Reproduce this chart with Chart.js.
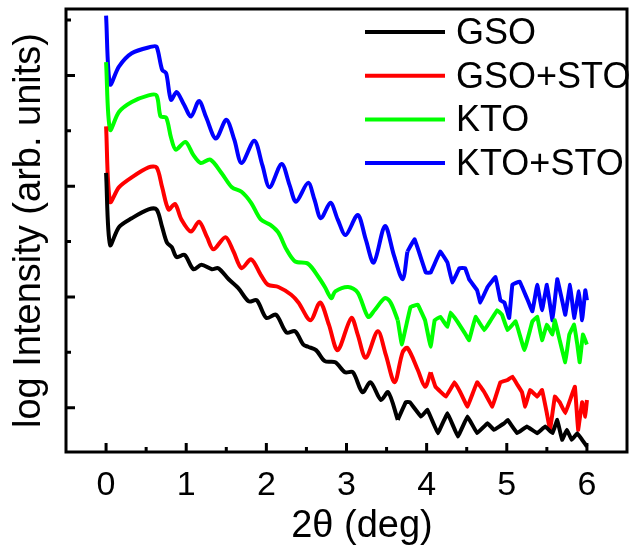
<!DOCTYPE html>
<html>
<head>
<meta charset="utf-8">
<script src="https://cdn.jsdelivr.net/npm/chart.js@4/dist/chart.umd.min.js"></script>
<style>
  html, body { margin: 0; padding: 0; background: #fff; }
</style>
</head>
<body>
<canvas id="canvasChart" width="630" height="546"></canvas>
<script>
// ---- data ----
const seriesNames = ['GSO', 'GSO+STO', 'KTO', 'KTO+STO'];

const gsoX = [0.00, 0.05, 0.16, 0.32, 0.53, 0.63, 0.70, 0.76, 0.82, 0.88, 0.98, 1.09, 1.19, 1.32, 1.40, 1.53, 1.65, 1.78, 1.88, 2.00, 2.12, 2.25, 2.36, 2.46, 2.52, 2.62, 2.73, 2.86, 2.98, 3.08, 3.20, 3.30, 3.43, 3.52, 3.64, 3.74, 3.79, 3.93, 4.01, 4.14, 4.26, 4.39, 4.51, 4.63, 4.76, 4.84, 4.97, 5.01, 5.13, 5.25, 5.38, 5.48, 5.57, 5.63, 5.69, 5.75, 5.81, 5.88, 5.94, 6.00];
const gsoY = [2.12, 1.47, 1.63, 1.71, 1.79, 1.79, 1.63, 1.49, 1.45, 1.36, 1.38, 1.25, 1.29, 1.25, 1.26, 1.16, 1.08, 0.96, 0.97, 0.81, 0.84, 0.68, 0.69, 0.57, 0.55, 0.52, 0.42, 0.41, 0.32, 0.32, 0.14, 0.23, 0.07, 0.14, -0.11, 0.05, 0.05, -0.08, -0.02, -0.23, -0.05, -0.26, -0.08, -0.23, -0.14, -0.20, -0.14, -0.11, -0.23, -0.17, -0.23, -0.17, -0.23, -0.11, -0.29, -0.20, -0.29, -0.23, -0.29, -0.35];

const gsoStoX = [0.00, 0.05, 0.16, 0.32, 0.53, 0.63, 0.70, 0.78, 0.86, 0.94, 1.06, 1.16, 1.26, 1.34, 1.49, 1.59, 1.69, 1.81, 1.93, 2.02, 2.15, 2.31, 2.40, 2.55, 2.67, 2.78, 2.89, 3.06, 3.14, 3.24, 3.39, 3.49, 3.60, 3.70, 3.76, 3.89, 3.98, 4.05, 4.11, 4.24, 4.35, 4.42, 4.51, 4.63, 4.72, 4.82, 4.92, 5.01, 5.07, 5.13, 5.19, 5.23, 5.29, 5.38, 5.44, 5.50, 5.54, 5.60, 5.66, 5.73, 5.79, 5.85, 5.89, 5.94, 5.98, 6.00];
const gsoStoY = [2.54, 1.86, 1.99, 2.08, 2.17, 2.17, 1.99, 1.79, 1.84, 1.70, 1.59, 1.68, 1.54, 1.43, 1.54, 1.41, 1.26, 1.34, 1.20, 1.11, 1.09, 1.02, 0.95, 0.79, 0.95, 0.75, 0.52, 0.81, 0.66, 0.45, 0.69, 0.48, 0.23, 0.50, 0.54, 0.34, 0.19, 0.32, 0.19, 0.10, 0.23, 0.14, 0.01, 0.23, 0.14, 0.01, 0.23, 0.25, 0.28, 0.21, 0.14, 0.01, 0.16, 0.10, 0.16, -0.05, -0.20, 0.10, 0.05, -0.05, 0.07, 0.19, -0.20, 0.05, -0.08, 0.07];

const ktoX = [0.00, 0.05, 0.16, 0.32, 0.53, 0.63, 0.68, 0.75, 0.81, 0.87, 0.99, 1.09, 1.18, 1.30, 1.44, 1.57, 1.69, 1.81, 1.93, 2.05, 2.15, 2.25, 2.36, 2.52, 2.65, 2.73, 2.81, 2.86, 3.02, 3.14, 3.27, 3.35, 3.48, 3.55, 3.64, 3.69, 3.76, 3.80, 3.89, 3.98, 4.05, 4.10, 4.17, 4.26, 4.30, 4.39, 4.47, 4.53, 4.61, 4.72, 4.80, 4.88, 4.94, 5.01, 5.11, 5.22, 5.32, 5.38, 5.44, 5.50, 5.57, 5.60, 5.66, 5.73, 5.78, 5.84, 5.88, 5.91, 5.95, 6.00];
const ktoY = [3.12, 2.51, 2.67, 2.76, 2.82, 2.82, 2.63, 2.62, 2.44, 2.33, 2.40, 2.28, 2.21, 2.24, 2.12, 1.99, 1.95, 1.85, 1.70, 1.65, 1.58, 1.43, 1.32, 1.30, 1.18, 1.09, 0.99, 1.05, 1.09, 1.04, 0.82, 0.88, 0.99, 0.95, 0.79, 0.57, 0.79, 0.91, 0.93, 0.79, 0.55, 0.79, 0.82, 0.73, 0.86, 0.77, 0.68, 0.61, 0.82, 0.70, 0.79, 0.88, 0.84, 0.70, 0.78, 0.52, 0.78, 0.82, 0.61, 0.75, 0.66, 0.79, 0.61, 0.41, 0.66, 0.75, 0.57, 0.41, 0.66, 0.57];

const ktoStoX = [0.00, 0.05, 0.16, 0.32, 0.57, 0.63, 0.70, 0.75, 0.81, 0.88, 0.97, 1.06, 1.16, 1.25, 1.37, 1.50, 1.60, 1.69, 1.85, 1.95, 2.04, 2.19, 2.29, 2.37, 2.52, 2.60, 2.68, 2.80, 2.89, 2.99, 3.14, 3.24, 3.34, 3.48, 3.59, 3.70, 3.76, 3.85, 3.99, 4.05, 4.17, 4.26, 4.32, 4.41, 4.48, 4.53, 4.63, 4.67, 4.76, 4.86, 4.92, 4.97, 5.03, 5.07, 5.16, 5.25, 5.32, 5.38, 5.44, 5.50, 5.57, 5.63, 5.69, 5.73, 5.79, 5.84, 5.90, 5.94, 5.98, 6.00];
const ktoStoY = [3.54, 2.92, 3.08, 3.20, 3.26, 3.26, 3.05, 3.02, 2.78, 2.85, 2.74, 2.63, 2.77, 2.62, 2.43, 2.60, 2.42, 2.21, 2.41, 2.19, 1.99, 2.20, 2.01, 1.86, 2.03, 1.88, 1.71, 1.85, 1.70, 1.56, 1.74, 1.52, 1.31, 1.64, 1.38, 1.16, 1.41, 1.52, 1.22, 1.22, 1.41, 1.31, 1.13, 1.26, 1.26, 1.16, 1.06, 0.95, 1.09, 1.18, 0.97, 0.95, 0.81, 1.11, 1.14, 0.99, 0.87, 1.11, 0.88, 1.11, 0.79, 1.16, 0.97, 0.84, 1.11, 0.81, 1.05, 0.79, 1.06, 0.97];

// where each curve turns from smooth fringes into noise
const noiseFrom = [3.64, 4.05, 3.64, 3.76];

const xTicks = [0, 1, 2, 3, 4, 5, 6];
const xMinorTicks = [0.5, 1.5, 2.5, 3.5, 4.5, 5.5];
const yMajorTicks = [0, 1, 2, 3];
const yMinorTicks = [0.5, 1.5, 2.5, 3.5];

const FONT = "'Liberation Sans', Arial, sans-serif";
const colors = ['#000000', '#ff0000', '#00ff00', '#0000ff'];
const allX = [gsoX, gsoStoX, ktoX, ktoStoX];
const allY = [gsoY, gsoStoY, ktoY, ktoStoY];

// frame, inward ticks, x title and in-plot legend
const framePlugin = {
  id: 'frame',
  afterDraw(chart) {
    const { ctx, chartArea: a, scales: { x, y } } = chart;
    ctx.save();
    ctx.strokeStyle = '#000';
    ctx.lineWidth = 3;
    ctx.strokeRect(a.left, a.top, a.right - a.left, a.bottom - a.top);

    ctx.beginPath();
    xTicks.forEach(v => { const p = x.getPixelForValue(v); ctx.moveTo(p, a.bottom); ctx.lineTo(p, a.bottom - 9); });
    xMinorTicks.forEach(v => { const p = x.getPixelForValue(v); ctx.moveTo(p, a.bottom); ctx.lineTo(p, a.bottom - 5); });
    yMajorTicks.forEach(v => { const p = y.getPixelForValue(v); ctx.moveTo(a.left, p); ctx.lineTo(a.left + 9, p); });
    yMinorTicks.forEach(v => { const p = y.getPixelForValue(v); ctx.moveTo(a.left, p); ctx.lineTo(a.left + 5, p); });
    ctx.stroke();

    ctx.fillStyle = '#000';
    ctx.font = '38px ' + FONT;
    ctx.textAlign = 'center';
    ctx.textBaseline = 'alphabetic';
    ctx.fillText('2θ (deg)', 362, 537);

    // legend
    ctx.font = '36px ' + FONT;
    ctx.textAlign = 'left';
    ctx.textBaseline = 'middle';
    seriesNames.forEach((name, i) => {
      const ly = 32 + i * 43.7;
      ctx.strokeStyle = colors[i];
      ctx.lineWidth = 4;
      ctx.beginPath();
      ctx.moveTo(365, ly);
      ctx.lineTo(445, ly);
      ctx.stroke();
      ctx.fillText(name, 456, ly + 2);
    });
    ctx.restore();
  }
};

// each series: smooth part (curved) + noisy tail (straight segments)
const datasets = [];
seriesNames.forEach((name, i) => {
  const xs = allX[i], ys = allY[i];
  const smooth = [], noisy = [];
  xs.forEach((xv, j) => {
    if (xv <= noiseFrom[i]) smooth.push({ x: xv, y: ys[j] });
    if (xv >= noiseFrom[i]) noisy.push({ x: xv, y: ys[j] });
  });
  datasets.push({ label: name, data: smooth, borderColor: colors[i], borderWidth: 4, pointRadius: 0, tension: 0.3 });
  datasets.push({ label: name, data: noisy, borderColor: colors[i], borderWidth: 4, pointRadius: 0, tension: 0.05 });
});

new Chart(document.getElementById('canvasChart').getContext('2d'), {
  type: 'line',
  data: { datasets: datasets },
  options: {
    responsive: false,
    animation: false,
    layout: { padding: { top: 9, right: 3, left: 0, bottom: 0 } },
    plugins: {
      legend: { display: false },
      tooltip: { enabled: false }
    },
    scales: {
      x: {
        type: 'linear',
        min: -0.5,
        max: 6.5,
        afterBuildTicks: s => { s.ticks = xTicks.map(v => ({ value: v })); },
        afterFit: s => { s.height = 94; },
        grid: { display: false, drawTicks: false },
        border: { display: false },
        ticks: { color: '#000', padding: 13, maxRotation: 0, font: { size: 34, family: FONT } }
      },
      y: {
        type: 'linear',
        min: -0.4,
        max: 3.6,
        afterFit: s => { s.width = 66; },
        grid: { display: false, drawTicks: false },
        border: { display: false },
        ticks: { display: false },
        title: {
          display: true,
          text: 'log Intensity (arb. units)',
          color: '#000',
          font: { size: 38, family: FONT, lineHeight: 1 },
          padding: { top: 11, bottom: 0 }
        }
      }
    }
  },
  plugins: [framePlugin]
});
</script>
</body>
</html>
